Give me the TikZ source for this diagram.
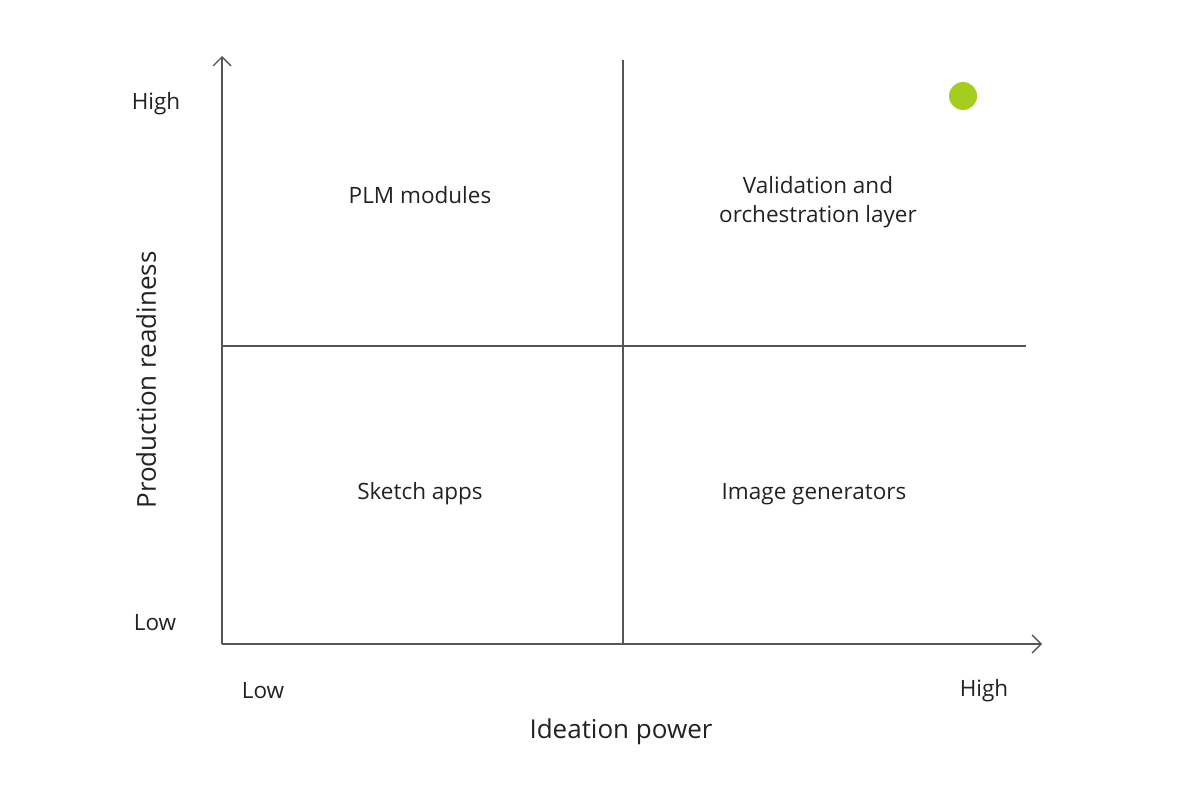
\documentclass[tikz,border=0pt]{standalone}
\usepackage{fontspec}
\setmainfont{Open Sans}
\usetikzlibrary{arrows.meta}
\definecolor{axisgray}{HTML}{555555}
\definecolor{textgray}{HTML}{222222}
\definecolor{limegreen}{HTML}{A5CD1E}
\begin{document}
\begin{tikzpicture}[x=1pt, y=-1pt,
		axis/.style={draw=axisgray, line width=1.4pt, -{Straight Barb[length=9pt, width=18pt, line width=1.4pt]}},
		divider/.style={draw=axisgray, line width=1.3pt},
		label/.style={text=textgray, font=\fontsize{22.5}{29}\selectfont, inner sep=0pt, align=center},
		title/.style={text=textgray, font=\fontsize{26}{30}\selectfont, inner sep=0pt}]
			\useasboundingbox (0,0) rectangle (1200,800);
			\coordinate (origin) at (222,644);
			\coordinate (ytop) at (222,56);
			\coordinate (xend) at (1042,644);
			\coordinate (midtop) at (623,60);
			\coordinate (midbot) at (623,644);
			\coordinate (midleft) at (222,346);
			\coordinate (midright) at (1026,346);
			% quadrant dividers
			\draw[divider] (midtop) -- (midbot);
			\draw[divider] (midleft) -- (midright);
			% axes
			\draw[axis] (origin) -- (ytop);
			\draw[axis] (origin) -- (xend);
			% axis labels
			\node[label] (yhigh) at (156,104) {High};
			\node[label] (ylow) at (155,623) {Low};
			\node[label] (xlow) at (263,691) {Low};
			\node[label] (xhigh) at (984,691) {High};
			\node[title] (xtitle) at (621,732) {Ideation power};
			\node[title, rotate=90] (ytitle) at (146,380) {Production readiness};
			% quadrants
			\node[label] (plm) at (420,195) {PLM modules};
			\node[label] (valid) at (818,202) {Validation and\\orchestration layer};
			\node[label] (sketch) at (420,494) {Sketch apps};
			\node[label] (image) at (814,494) {Image generators};
			\node[circle, fill=limegreen, minimum size=28pt, inner sep=0pt] (dot) at (963,96) {};
		\end{tikzpicture}
\end{document}
